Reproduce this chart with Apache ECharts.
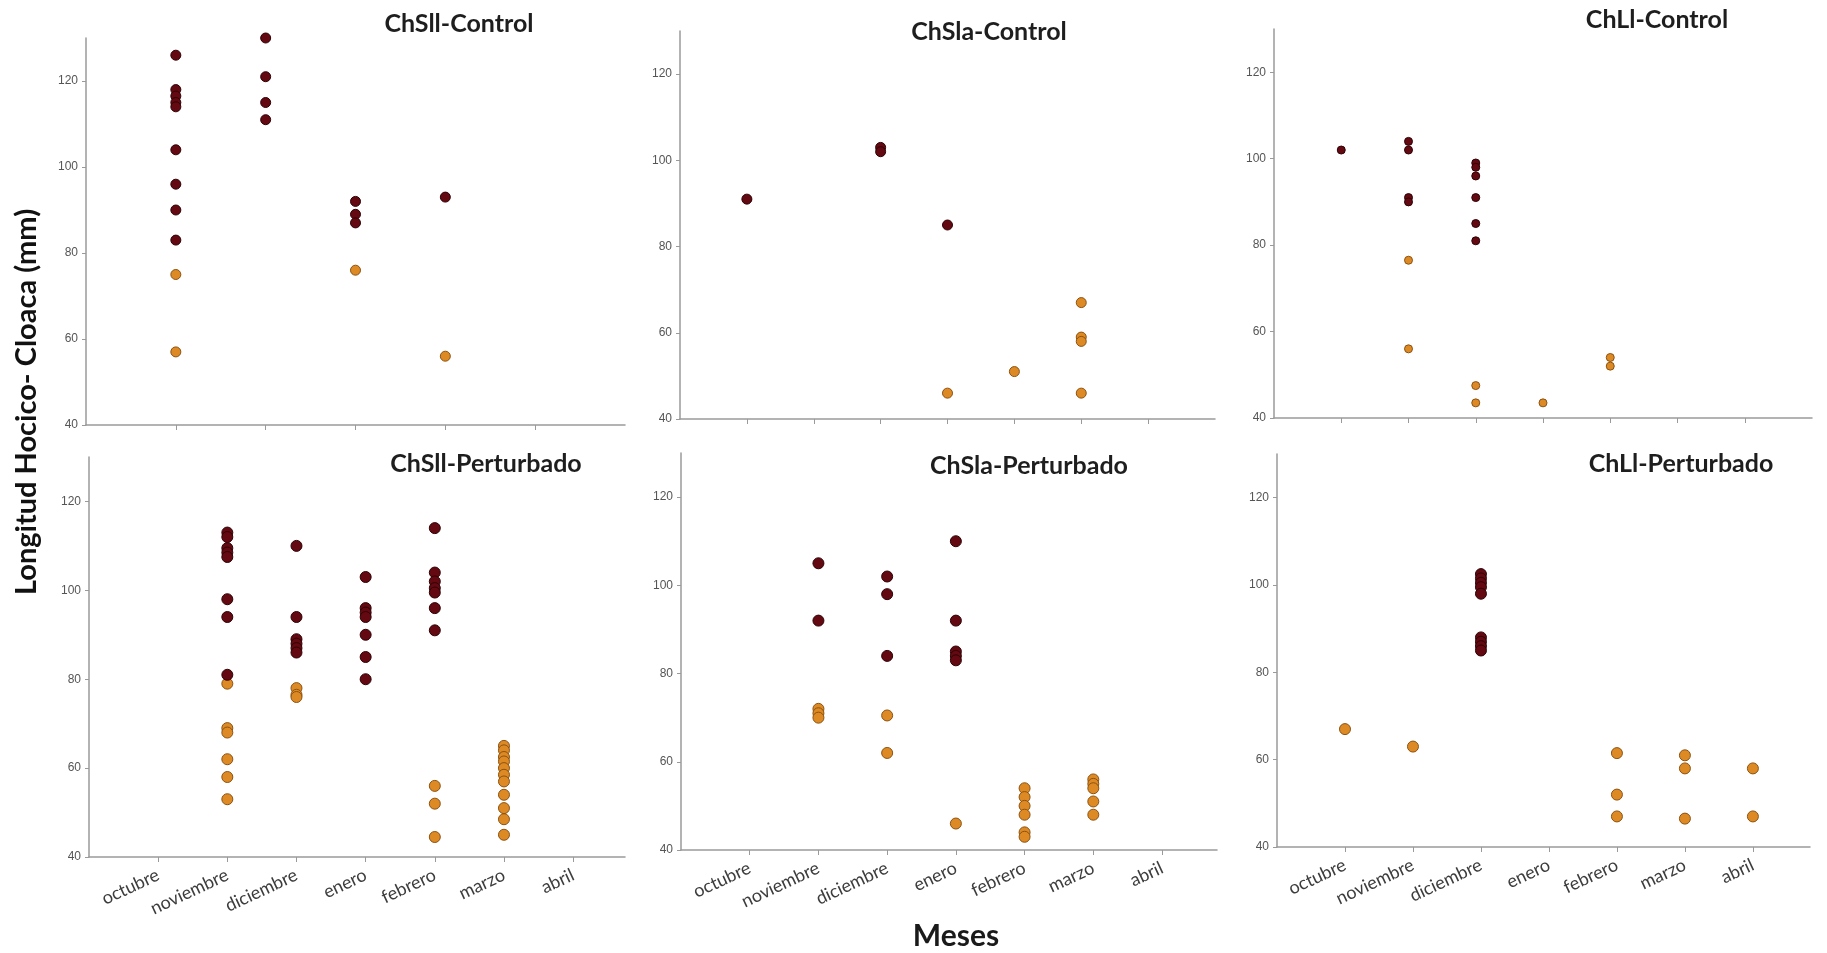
<!DOCTYPE html>
<html>
<head>
<meta charset="utf-8">
<script src="https://cdn.jsdelivr.net/npm/echarts@6/dist/echarts.min.js"></script>
<style>
html,body{margin:0;padding:0;background:#fff;}
#chart{width:1827px;height:953px;}
</style>
</head>
<body>
<div id="chart"></div>
<script>
// ---------------- DATA ----------------
const months = ['octubre', 'noviembre', 'diciembre', 'enero', 'febrero', 'marzo', 'abril'];
const monthsTopLeft = ['noviembre', 'diciembre', 'enero', 'febrero', 'marzo'];
const yTicks = [40, 60, 80, 100, 120];
const panelTitles = ['ChSll-Control', 'ChSla-Control', 'ChLl-Control', 'ChSll-Perturbado', 'ChSla-Perturbado', 'ChLl-Perturbado'];
const xAxisTitle = 'Meses';
const yAxisTitle = 'Longitud Hocico- Cloaca (mm)';

// values per month (dark = adults, orange = juveniles)
const chsllControlDark = [[126, 118, 116.5, 115, 114, 104, 96, 90, 83], [130, 121, 115, 111], [92, 89, 87], [93], []];
const chsllControlOrange = [[75, 57], [], [76], [56], []];

const chslaControlDark = [[91], [], [103, 102], [85], [], [], []];
const chslaControlOrange = [[], [], [], [46], [51], [67, 59, 58, 46], []];

const chllControlDark = [[102], [104, 102, 91, 90], [99, 98, 96, 91, 85, 81], [], [], [], []];
const chllControlOrange = [[], [76.5, 56], [47.5, 43.5], [43.5], [54, 52], [], []];

const chsllPerturbadoDark = [[], [113, 112, 109.5, 108.5, 107.5, 98, 94, 81], [110, 94, 89, 88, 87, 86], [103, 96, 95, 94, 90, 85, 80], [114, 104, 102, 100.5, 99.5, 96, 91], [], []];
const chsllPerturbadoOrange = [[], [79, 69, 68, 62, 58, 53], [78, 76.5, 76], [], [56, 52, 44.5], [65, 64, 62.5, 61.5, 60, 58.5, 57, 54, 51, 48.5, 45], []];

const chslaPerturbadoDark = [[], [105, 92], [102, 98, 84], [110, 92, 85, 84, 83], [], [], []];
const chslaPerturbadoOrange = [[], [72, 71, 70], [70.5, 62], [46], [54, 52, 50, 48, 44, 43], [56, 55, 54, 51, 48], []];

const chllPerturbadoDark = [[], [], [102.5, 101.5, 100.5, 99.5, 98, 88, 87, 86, 85], [], [], [], []];
const chllPerturbadoOrange = [[67], [63], [], [], [61.5, 52, 47], [61, 58, 46.5], [58, 47]];

// ---------------- LAYOUT ----------------
const panels = [
  {cats: monthsTopLeft, dark: chsllControlDark, orange: chsllControlOrange, grid: {left: 86, top: 38, width: 539, height: 387}, xMax: 6, labels: false, size: 10, title: [459, 24]},
  {cats: months, dark: chslaControlDark, orange: chslaControlOrange, grid: {left: 680, top: 31, width: 535, height: 388}, xMax: 8, labels: false, size: 10, title: [989, 32]},
  {cats: months, dark: chllControlDark, orange: chllControlOrange, grid: {left: 1274, top: 29, width: 538, height: 389}, xMax: 8, labels: false, size: 8, title: [1657, 20]},
  {cats: months, dark: chsllPerturbadoDark, orange: chsllPerturbadoOrange, grid: {left: 89, top: 457, width: 536, height: 400}, xMax: 7.75, labels: true, size: 11, title: [486, 464]},
  {cats: months, dark: chslaPerturbadoDark, orange: chslaPerturbadoOrange, grid: {left: 681, top: 453, width: 536, height: 397}, xMax: 7.8, labels: true, size: 11, title: [1029, 466]},
  {cats: months, dark: chllPerturbadoDark, orange: chllPerturbadoOrange, grid: {left: 1277, top: 454, width: 533, height: 393}, xMax: 7.84, labels: true, size: 11, title: [1681, 464]}
];

const AXIS_COLOR = '#9a9a9a';
const DARK = {color: '#640811', borderColor: '#2e0306', borderWidth: 1, opacity: 1};
const ORANGE = {color: '#dd8a24', borderColor: '#8c5212', borderWidth: 1, opacity: 1};

function toPoints(groups) {
  const pts = [];
  groups.forEach((vals, i) => vals.forEach(v => pts.push([i + 1, v])));
  return pts;
}

const grid = [], xAxis = [], yAxis = [], series = [], graphic = [];
panels.forEach((p, k) => {
  grid.push(Object.assign({}, p.grid));
  const tickVals = p.cats.map((c, i) => i + 1);
  xAxis.push({
    type: 'value', gridIndex: k, min: 0, max: p.xMax, interval: 1,
    axisLine: {show: true, lineStyle: {color: AXIS_COLOR, width: 1.5}},
    axisTick: {show: true, inside: false, length: 5, customValues: tickVals, lineStyle: {color: AXIS_COLOR}},
    axisLabel: p.labels ? {
      show: true, customValues: tickVals, rotate: 25, margin: 17,
      fontFamily: 'Lato', fontSize: 18, color: '#3d3d3d',
      formatter: v => p.cats[Math.round(v) - 1] || ''
    } : {show: false},
    splitLine: {show: false}
  });
  yAxis.push({
    type: 'value', gridIndex: k, min: 40, max: 130, interval: 20,
    axisLine: {show: true, lineStyle: {color: AXIS_COLOR, width: 1.5}},
    axisTick: {show: true, length: 4, customValues: yTicks, lineStyle: {color: AXIS_COLOR}},
    axisLabel: {show: true, customValues: yTicks, margin: 8, fontFamily: 'Liberation Sans', fontSize: 12, color: '#555'},
    splitLine: {show: false}
  });
  series.push({
    type: 'scatter', xAxisIndex: k, yAxisIndex: k, symbolSize: p.size,
    itemStyle: DARK, data: toPoints(p.dark), z: 3
  });
  series.push({
    type: 'scatter', xAxisIndex: k, yAxisIndex: k, symbolSize: p.size,
    itemStyle: ORANGE, data: toPoints(p.orange), z: 2
  });
  graphic.push({
    type: 'text', x: p.title[0], y: p.title[1], z: 10,
    style: {text: panelTitles[k], font: 'bold 25px Lato', fill: '#1e1e1e', align: 'center', verticalAlign: 'middle', textAlign: 'center', textVerticalAlign: 'middle'}
  });
});

graphic.push({
  type: 'text', x: 956, y: 936, z: 10,
  style: {text: xAxisTitle, font: 'bold 30px Lato', fill: '#1a1a1a', align: 'center', verticalAlign: 'middle', textAlign: 'center', textVerticalAlign: 'middle'}
});
graphic.push({
  type: 'text', x: 27, y: 402, rotation: Math.PI / 2, z: 10,
  style: {text: yAxisTitle, font: 'bold 29px Lato', fill: '#111', align: 'center', verticalAlign: 'middle', textAlign: 'center', textVerticalAlign: 'middle'}
});

const chart = echarts.init(document.getElementById('chart'), null, {renderer: 'canvas'});
chart.setOption({
  backgroundColor: '#ffffff',
  animation: false,
  grid, xAxis, yAxis, series, graphic
});
</script>
</body>
</html>
